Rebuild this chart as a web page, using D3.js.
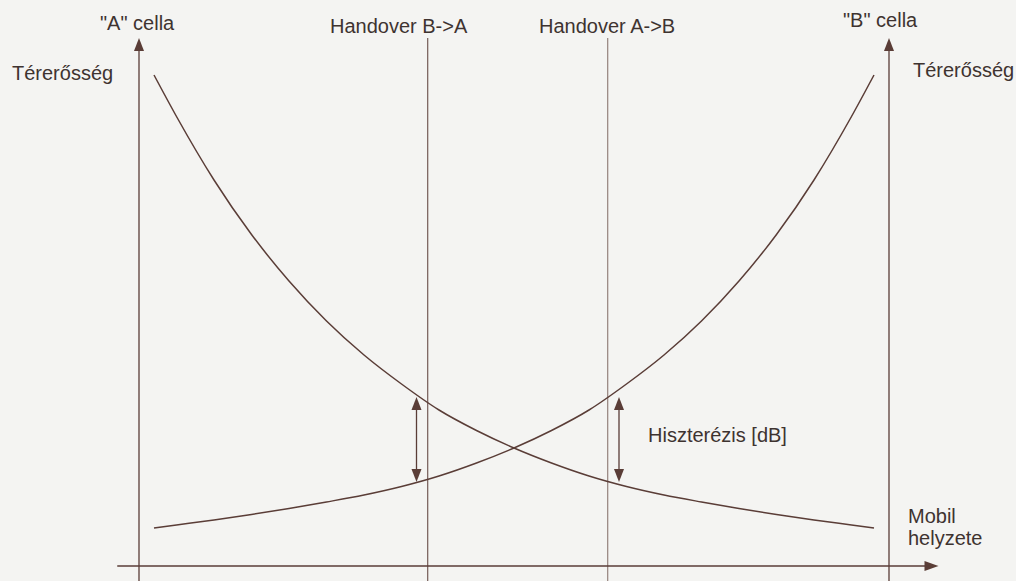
<!DOCTYPE html>
<html>
<head>
<meta charset="utf-8">
<script src="https://cdn.jsdelivr.net/npm/d3@7"></script>
<style>
  body { margin: 0; background: #f4f4f2; }
  svg { display: block; }
  text { font-family: "Liberation Sans", Arial, sans-serif; font-size: 20px; fill: #3e3330; }
</style>
</head>
<body>
<div id="chart"></div>
<script>
var width = 1016;
var height = 581;

// signal strength (position 0 = "A" cell, 100 = "B" cell)
var positions = [2, 5, 10, 15, 20, 25, 30, 35, 40, 45, 50, 55, 60, 65, 70, 75, 80, 85, 90, 95, 98];
var cellA = [98.2, 89.9, 77.2, 66.3, 57.0, 49.0, 42.2, 36.4, 31.2, 27.1, 23.6, 20.6, 18.0, 15.9, 14.2, 12.8, 11.5, 10.3, 9.2, 8.2, 7.6];
var cellB = [7.6, 8.2, 9.2, 10.3, 11.5, 12.8, 14.2, 15.9, 18.0, 20.6, 23.6, 27.1, 31.2, 36.4, 42.2, 49.0, 57.0, 66.3, 77.2, 89.9, 98.2];

var cellAxes = [0, 100];
var handovers = [38.5, 62.5];
var handoverLabels = ["Handover B->A", "Handover A->B"];
var hystPos = [37, 64];
var hystHigh = 33.8;
var hystLow = 16.8;

var ink = "#5a3d37";

var svg = d3.select("#chart")
  .append("svg")
  .attr("width", width)
  .attr("height", height)

var x = d3.scaleLinear().domain([0, 100]).range([139, 889]);
var y = d3.scaleLinear().domain([0, 100]).range([566, 66]);

// arrowhead helpers
function arrowUp(cx, tip) {
  return "M" + cx + "," + tip + "L" + (cx - 5) + "," + (tip + 13) + "L" + (cx + 5) + "," + (tip + 13) + "Z";
}
function arrowDown(cx, tip) {
  return "M" + cx + "," + tip + "L" + (cx - 5) + "," + (tip - 13) + "L" + (cx + 5) + "," + (tip - 13) + "Z";
}

// horizontal axis (mobile position)
svg.append("line")
  .attr("x1", x(-2.9)).attr("x2", x(105))
  .attr("y1", y(0)).attr("y2", y(0))
  .style("stroke", ink).style("stroke-width", 1.4)
svg.append("path")
  .attr("d", "M" + x(106.6) + "," + y(0) + "L" + (x(106.6) - 14) + "," + (y(0) - 5) + "L" + (x(106.6) - 14) + "," + (y(0) + 5) + "Z")
  .attr("fill", ink)

// cell axes
svg.selectAll("line.cell")
  .data(cellAxes)
  .join("line")
    .attr("class", "cell")
    .attr("x1", d => x(d)).attr("x2", d => x(d))
    .attr("y1", y(103)).attr("y2", y(-3))
    .style("stroke", ink).style("stroke-width", 1.3)
svg.selectAll("path.cellArrow")
  .data(cellAxes)
  .join("path")
    .attr("class", "cellArrow")
    .attr("d", d => arrowUp(x(d), y(105.6)))
    .attr("fill", ink)

// handover lines
svg.selectAll("line.handover")
  .data(handovers)
  .join("line")
    .attr("class", "handover")
    .attr("x1", d => x(d)).attr("x2", d => x(d))
    .attr("y1", y(105.6)).attr("y2", y(-3))
    .style("stroke", ink).style("stroke-width", 1)
    .style("stroke-opacity", (d, i) => i == 0 ? 1 : 0.75)

// curves
var line = d3.line()
  .x((d, i) => x(positions[i]))
  .y(d => y(d))
  .curve(d3.curveMonotoneX)

svg.append("path").datum(cellA)
  .attr("d", line)
  .attr("fill", "none").style("stroke", ink).style("stroke-width", 1.5)
svg.append("path").datum(cellB)
  .attr("d", line)
  .attr("fill", "none").style("stroke", ink).style("stroke-width", 1.5)

// hysteresis double arrows
svg.selectAll("line.hyst")
  .data(hystPos)
  .join("line")
    .attr("class", "hyst")
    .attr("x1", d => x(d)).attr("x2", d => x(d))
    .attr("y1", y(hystHigh) + 8).attr("y2", y(hystLow) - 8)
    .style("stroke", ink).style("stroke-width", 1.3)
svg.selectAll("path.hystUp")
  .data(hystPos)
  .join("path")
    .attr("class", "hystUp")
    .attr("d", d => arrowUp(x(d), y(hystHigh)))
    .attr("fill", ink)
svg.selectAll("path.hystDown")
  .data(hystPos)
  .join("path")
    .attr("class", "hystDown")
    .attr("d", d => arrowDown(x(d), y(hystLow)))
    .attr("fill", ink)

// labels
svg.append("text").attr("x", 100).attr("y", 30).text('"A" cella')
svg.append("text").attr("x", 12).attr("y", 80).text("Térerősség")
svg.append("text").attr("x", 843).attr("y", 27).text('"B" cella')
svg.append("text").attr("x", 913).attr("y", 77).text("Térerősség")

svg.selectAll("text.handoverLabel")
  .data(handoverLabels)
  .join("text")
    .attr("class", "handoverLabel")
    .attr("x", (d, i) => [330, 539][i])
    .attr("y", 33)
    .text(d => d)

svg.append("text").attr("x", 648).attr("y", 442).text("Hiszterézis [dB]")
svg.append("text").attr("x", 908).attr("y", 523).text("Mobil")
svg.append("text").attr("x", 908).attr("y", 545).text("helyzete")
</script>
</body>
</html>
